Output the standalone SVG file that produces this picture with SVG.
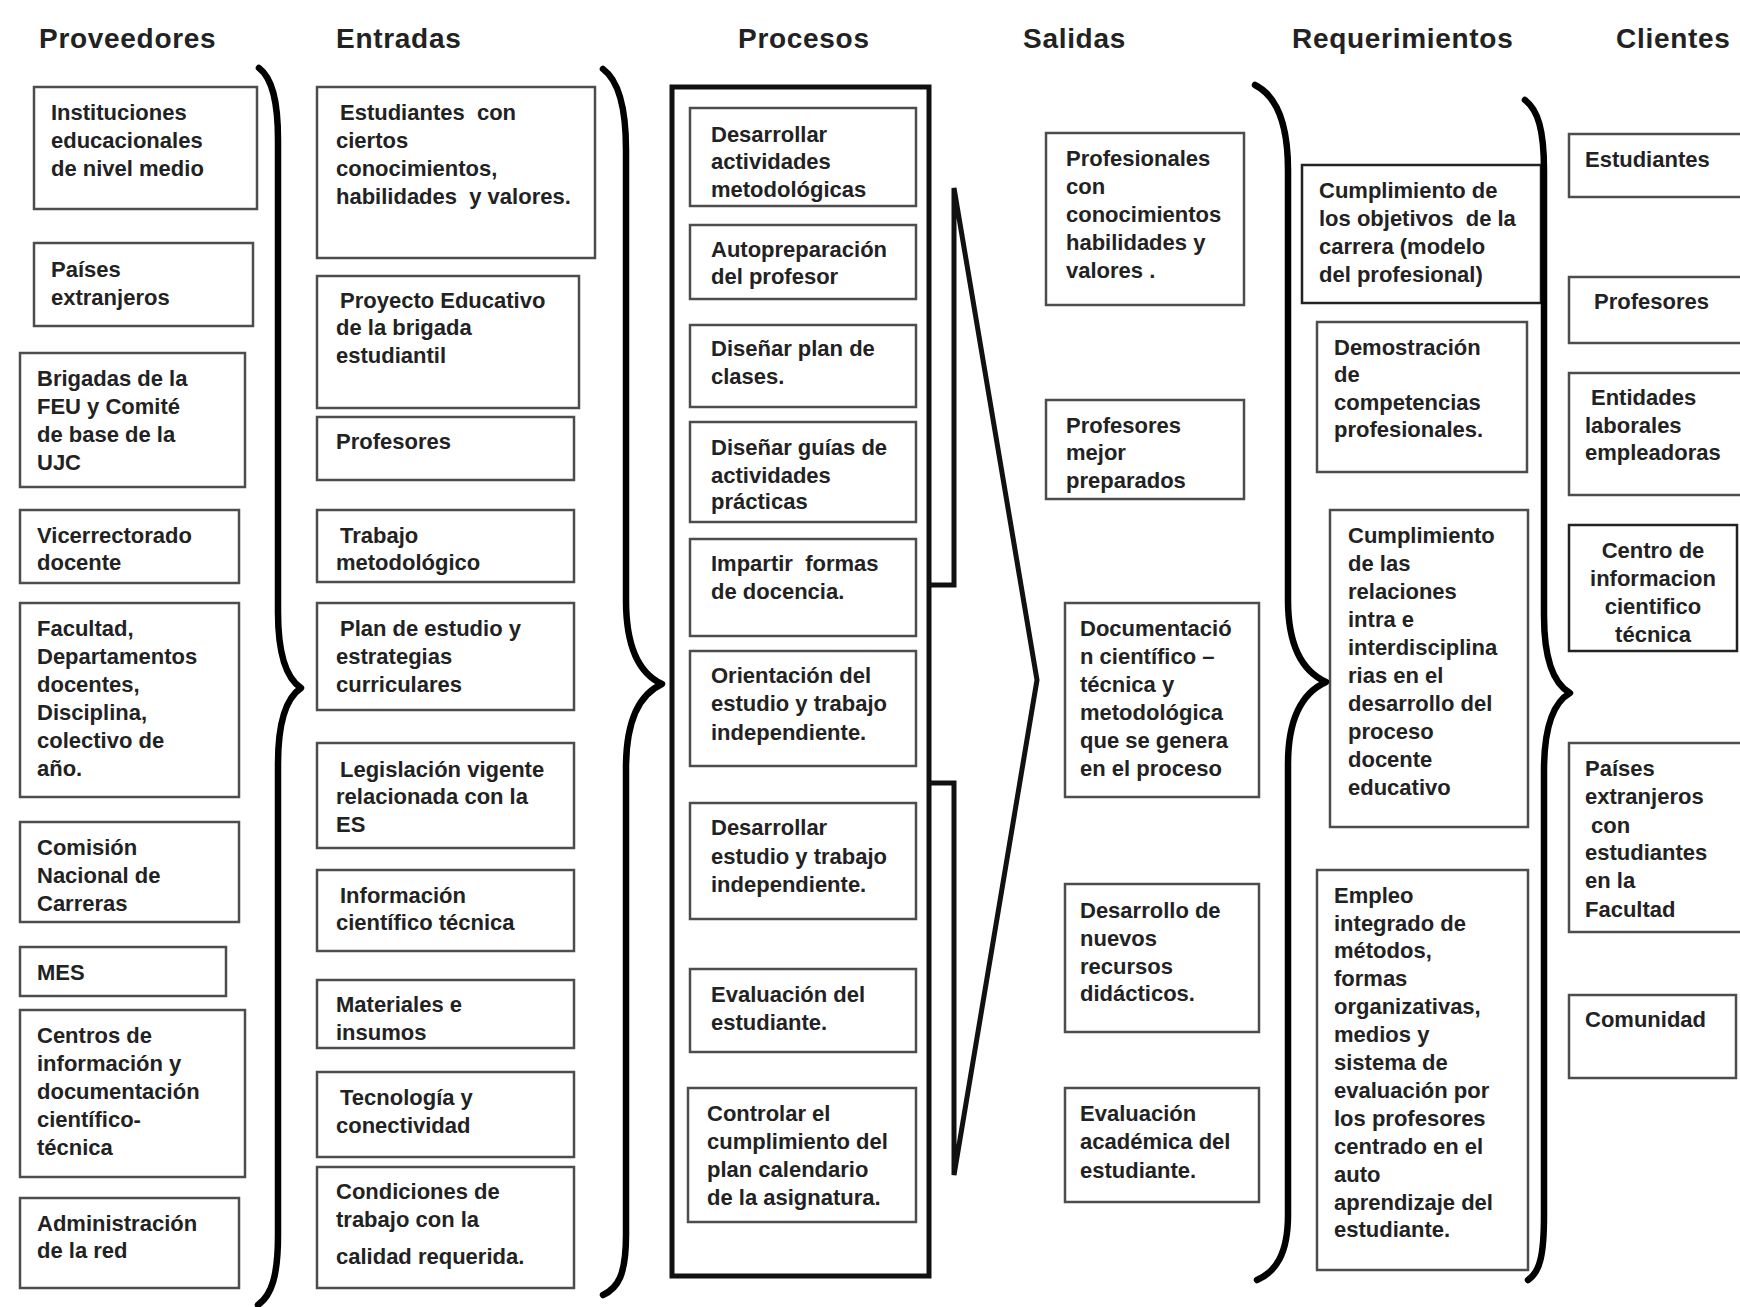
<svg xmlns="http://www.w3.org/2000/svg" width="1740" height="1307" viewBox="0 0 1740 1307">
<style>
.bg{fill:#ffffff}
.box{fill:#ffffff;stroke:#4d4d4d;stroke-width:2.5}
.t{font-family:"Liberation Sans",Arial,sans-serif;font-size:22px;font-weight:bold;fill:#222}
.title{font-family:"Liberation Sans",Arial,sans-serif;font-size:28px;font-weight:bold;letter-spacing:0.7px;fill:#222}
.brace{fill:none;stroke:#000;stroke-width:6.5;stroke-linecap:round;stroke-linejoin:round}
.heavy{fill:none;stroke:#111;stroke-width:5}
</style>
<rect class="bg" x="0" y="0" width="1740" height="1307"/>

<g id="titles">
<text class="title" x="39" y="48">Proveedores</text>
<text class="title" x="336" y="48">Entradas</text>
<text class="title" x="738" y="48">Procesos</text>
<text class="title" x="1023" y="48">Salidas</text>
<text class="title" x="1292" y="48">Requerimientos</text>
<text class="title" x="1616" y="48">Clientes</text>
</g>

<!-- Proveedores -->
<g id="p1"><rect class="box" x="34" y="87" width="223" height="122"/><text class="t"><tspan x="51" y="120">Instituciones</tspan><tspan x="51" y="148">educacionales</tspan><tspan x="51" y="176">de nivel medio</tspan></text></g>
<g id="p2"><rect class="box" x="34" y="243" width="219" height="83"/><text class="t"><tspan x="51" y="277">Países</tspan><tspan x="51" y="305">extranjeros</tspan></text></g>
<g id="p3"><rect class="box" x="20" y="353" width="225" height="134"/><text class="t"><tspan x="37" y="386">Brigadas de la</tspan><tspan x="37" y="414">FEU y Comité</tspan><tspan x="37" y="442">de base de la</tspan><tspan x="37" y="470">UJC</tspan></text></g>
<g id="p4"><rect class="box" x="20" y="510" width="219" height="73"/><text class="t"><tspan x="37" y="543">Vicerrectorado</tspan><tspan x="37" y="570">docente</tspan></text></g>
<g id="p5"><rect class="box" x="20" y="603" width="219" height="194"/><text class="t"><tspan x="37" y="636">Facultad,</tspan><tspan x="37" y="664">Departamentos</tspan><tspan x="37" y="692">docentes,</tspan><tspan x="37" y="720">Disciplina,</tspan><tspan x="37" y="748">colectivo de</tspan><tspan x="37" y="776">año.</tspan></text></g>
<g id="p6"><rect class="box" x="20" y="822" width="219" height="100"/><text class="t"><tspan x="37" y="855">Comisión</tspan><tspan x="37" y="883">Nacional de</tspan><tspan x="37" y="911">Carreras</tspan></text></g>
<g id="p7"><rect class="box" x="20" y="947" width="206" height="49"/><text class="t"><tspan x="37" y="980">MES</tspan></text></g>
<g id="p8"><rect class="box" x="20" y="1010" width="225" height="167"/><text class="t"><tspan x="37" y="1043">Centros de</tspan><tspan x="37" y="1071">información y</tspan><tspan x="37" y="1099">documentación</tspan><tspan x="37" y="1127">científico-</tspan><tspan x="37" y="1155">técnica</tspan></text></g>
<g id="p9"><rect class="box" x="20" y="1198" width="219" height="90"/><text class="t"><tspan x="37" y="1231">Administración</tspan><tspan x="37" y="1258">de la red</tspan></text></g>

<!-- Entradas -->
<g id="e1"><rect class="box" x="317" y="87" width="278" height="171"/><text class="t"><tspan x="340" y="120">Estudiantes&#160; con</tspan><tspan x="336" y="148">ciertos</tspan><tspan x="336" y="176">conocimientos,</tspan><tspan x="336" y="204">habilidades&#160; y valores.</tspan></text></g>
<g id="e2"><rect class="box" x="317" y="276" width="262" height="132"/><text class="t"><tspan x="340" y="308">Proyecto Educativo</tspan><tspan x="336" y="335">de la brigada</tspan><tspan x="336" y="363">estudiantil</tspan></text></g>
<g id="e3"><rect class="box" x="317" y="417" width="257" height="63"/><text class="t"><tspan x="336" y="449">Profesores</tspan></text></g>
<g id="e4"><rect class="box" x="317" y="510" width="257" height="72"/><text class="t"><tspan x="340" y="543">Trabajo</tspan><tspan x="336" y="570">metodológico</tspan></text></g>
<g id="e5"><rect class="box" x="317" y="603" width="257" height="107"/><text class="t"><tspan x="340" y="636">Plan de estudio y</tspan><tspan x="336" y="664">estrategias</tspan><tspan x="336" y="692">curriculares</tspan></text></g>
<g id="e6"><rect class="box" x="317" y="743" width="257" height="105"/><text class="t"><tspan x="340" y="777">Legislación vigente</tspan><tspan x="336" y="804">relacionada con la</tspan><tspan x="336" y="832">ES</tspan></text></g>
<g id="e7"><rect class="box" x="317" y="870" width="257" height="81"/><text class="t"><tspan x="340" y="903">Información</tspan><tspan x="336" y="930">científico técnica</tspan></text></g>
<g id="e8"><rect class="box" x="317" y="980" width="257" height="68"/><text class="t"><tspan x="336" y="1012">Materiales e</tspan><tspan x="336" y="1040">insumos</tspan></text></g>
<g id="e9"><rect class="box" x="317" y="1072" width="257" height="85"/><text class="t"><tspan x="340" y="1105">Tecnología y</tspan><tspan x="336" y="1133">conectividad</tspan></text></g>
<g id="e10"><rect class="box" x="317" y="1167" width="257" height="121"/><text class="t"><tspan x="336" y="1199">Condiciones de</tspan><tspan x="336" y="1227">trabajo con la</tspan><tspan x="336" y="1264">calidad requerida.</tspan></text></g>

<!-- Procesos -->
<g id="procesos-marco"><rect class="heavy" x="672" y="87" width="257" height="1189"/></g>
<g id="r1"><rect class="box" x="690" y="108" width="226" height="98"/><text class="t"><tspan x="711" y="142">Desarrollar</tspan><tspan x="711" y="169">actividades</tspan><tspan x="711" y="197">metodológicas</tspan></text></g>
<g id="r2"><rect class="box" x="690" y="225" width="226" height="74"/><text class="t"><tspan x="711" y="257">Autopreparación</tspan><tspan x="711" y="284">del profesor</tspan></text></g>
<g id="r3"><rect class="box" x="690" y="325" width="226" height="82"/><text class="t"><tspan x="711" y="356">Diseñar plan de</tspan><tspan x="711" y="384">clases.</tspan></text></g>
<g id="r4"><rect class="box" x="690" y="422" width="226" height="100"/><text class="t"><tspan x="711" y="455">Diseñar guías de</tspan><tspan x="711" y="483">actividades</tspan><tspan x="711" y="509">prácticas</tspan></text></g>
<g id="r5"><rect class="box" x="690" y="539" width="226" height="97"/><text class="t"><tspan x="711" y="571">Impartir&#160; formas</tspan><tspan x="711" y="599">de docencia.</tspan></text></g>
<g id="r6"><rect class="box" x="690" y="651" width="226" height="115"/><text class="t"><tspan x="711" y="683">Orientación del</tspan><tspan x="711" y="711">estudio y trabajo</tspan><tspan x="711" y="740">independiente.</tspan></text></g>
<g id="r7"><rect class="box" x="690" y="803" width="226" height="116"/><text class="t"><tspan x="711" y="835">Desarrollar</tspan><tspan x="711" y="864">estudio y trabajo</tspan><tspan x="711" y="892">independiente.</tspan></text></g>
<g id="r8"><rect class="box" x="690" y="969" width="226" height="83"/><text class="t"><tspan x="711" y="1002">Evaluación del</tspan><tspan x="711" y="1030">estudiante.</tspan></text></g>
<g id="r9"><rect class="box" x="688" y="1088" width="228" height="134"/><text class="t"><tspan x="707" y="1121">Controlar el</tspan><tspan x="707" y="1149">cumplimiento del</tspan><tspan x="707" y="1177">plan calendario</tspan><tspan x="707" y="1205">de la asignatura.</tspan></text></g>

<!-- Salidas -->
<g id="s1"><rect class="box" x="1046" y="133" width="198" height="172"/><text class="t"><tspan x="1066" y="166">Profesionales</tspan><tspan x="1066" y="194">con</tspan><tspan x="1066" y="222">conocimientos</tspan><tspan x="1066" y="250">habilidades y</tspan><tspan x="1066" y="278">valores .</tspan></text></g>
<g id="s2"><rect class="box" x="1046" y="400" width="198" height="99"/><text class="t"><tspan x="1066" y="433">Profesores</tspan><tspan x="1066" y="460">mejor</tspan><tspan x="1066" y="488">preparados</tspan></text></g>
<g id="s3"><rect class="box" x="1065" y="603" width="194" height="194"/><text class="t"><tspan x="1080" y="636">Documentació</tspan><tspan x="1080" y="664">n científico –</tspan><tspan x="1080" y="692">técnica y</tspan><tspan x="1080" y="720">metodológica</tspan><tspan x="1080" y="748">que se genera</tspan><tspan x="1080" y="776">en el proceso</tspan></text></g>
<g id="s4"><rect class="box" x="1065" y="884" width="194" height="148"/><text class="t"><tspan x="1080" y="918">Desarrollo de</tspan><tspan x="1080" y="946">nuevos</tspan><tspan x="1080" y="974">recursos</tspan><tspan x="1080" y="1001">didácticos.</tspan></text></g>
<g id="s5"><rect class="box" x="1065" y="1088" width="194" height="114"/><text class="t"><tspan x="1080" y="1121">Evaluación</tspan><tspan x="1080" y="1149">académica del</tspan><tspan x="1080" y="1178">estudiante.</tspan></text></g>

<!-- Requerimientos -->
<g id="q1"><rect class="box" x="1302" y="165" width="239" height="138" style="stroke:#222"/><text class="t"><tspan x="1319" y="198">Cumplimiento de</tspan><tspan x="1319" y="226">los objetivos&#160; de la</tspan><tspan x="1319" y="254">carrera (modelo</tspan><tspan x="1319" y="282">del profesional)</tspan></text></g>
<g id="q2"><rect class="box" x="1317" y="322" width="210" height="150"/><text class="t"><tspan x="1334" y="355">Demostración</tspan><tspan x="1334" y="382">de</tspan><tspan x="1334" y="410">competencias</tspan><tspan x="1334" y="437">profesionales.</tspan></text></g>
<g id="q3"><rect class="box" x="1330" y="510" width="198" height="317"/><text class="t"><tspan x="1348" y="543">Cumplimiento</tspan><tspan x="1348" y="571">de las</tspan><tspan x="1348" y="599">relaciones</tspan><tspan x="1348" y="627">intra e</tspan><tspan x="1348" y="655">interdisciplina</tspan><tspan x="1348" y="683">rias en el</tspan><tspan x="1348" y="711">desarrollo del</tspan><tspan x="1348" y="739">proceso</tspan><tspan x="1348" y="767">docente</tspan><tspan x="1348" y="795">educativo</tspan></text></g>
<g id="q4"><rect class="box" x="1317" y="870" width="211" height="400"/><text class="t"><tspan x="1334" y="903">Empleo</tspan><tspan x="1334" y="931">integrado de</tspan><tspan x="1334" y="958">métodos,</tspan><tspan x="1334" y="986">formas</tspan><tspan x="1334" y="1014">organizativas,</tspan><tspan x="1334" y="1042">medios y</tspan><tspan x="1334" y="1070">sistema de</tspan><tspan x="1334" y="1098">evaluación por</tspan><tspan x="1334" y="1126">los profesores</tspan><tspan x="1334" y="1154">centrado en el</tspan><tspan x="1334" y="1182">auto</tspan><tspan x="1334" y="1210">aprendizaje del</tspan><tspan x="1334" y="1237">estudiante.</tspan></text></g>

<!-- Clientes -->
<g id="c1"><rect class="box" x="1569" y="134" width="180" height="63"/><text class="t"><tspan x="1585" y="167">Estudiantes</tspan></text></g>
<g id="c2"><rect class="box" x="1569" y="277" width="180" height="66"/><text class="t"><tspan x="1594" y="309">Profesores</tspan></text></g>
<g id="c3"><rect class="box" x="1569" y="373" width="180" height="122"/><text class="t"><tspan x="1591" y="405">Entidades</tspan><tspan x="1585" y="433">laborales</tspan><tspan x="1585" y="460">empleadoras</tspan></text></g>
<g id="c4"><rect class="box" x="1569" y="525" width="168" height="126" style="stroke:#222"/><text class="t" text-anchor="middle"><tspan x="1653" y="558">Centro de</tspan><tspan x="1653" y="586">informacion</tspan><tspan x="1653" y="614">cientifico</tspan><tspan x="1653" y="642">técnica</tspan></text></g>
<g id="c5"><rect class="box" x="1569" y="743" width="180" height="189"/><text class="t"><tspan x="1585" y="776">Países</tspan><tspan x="1585" y="804">extranjeros</tspan><tspan x="1591" y="833">con</tspan><tspan x="1585" y="860">estudiantes</tspan><tspan x="1585" y="888">en la</tspan><tspan x="1585" y="917">Facultad</tspan></text></g>
<g id="c6"><rect class="box" x="1569" y="995" width="167" height="83"/><text class="t"><tspan x="1585" y="1027">Comunidad</tspan></text></g>

<!-- Connectors: braces and arrow -->
<g id="connectors">
<path class="brace" d="M259,68 C272,78 278,100 278,140 L278,612 C278,655 286,678 301,688 C286,698 278,721 278,764 L278,1235 C278,1275 272,1295 258,1305"/>
<path class="brace" d="M603,69 C618,80 626,105 626,150 L626,600 C626,650 640,674 662,684 C640,694 626,718 626,768 L626,1235 C626,1275 618,1288 603,1295"/>
<path class="brace" d="M1255,85 C1275,95 1288,120 1288,170 L1288,600 C1288,648 1304,672 1326,682 C1304,692 1288,716 1288,764 L1288,1215 C1288,1255 1275,1272 1257,1280"/>
<path class="brace" d="M1525,100 C1538,110 1544,130 1544,170 L1544,615 C1544,662 1554,684 1570,693 C1554,702 1544,724 1544,771 L1544,1215 C1544,1255 1540,1272 1528,1280"/>
<polyline class="heavy" points="929,585 954,585 954,188 1037,680 954,1175 954,783 929,783"/>
</g>
</svg>
